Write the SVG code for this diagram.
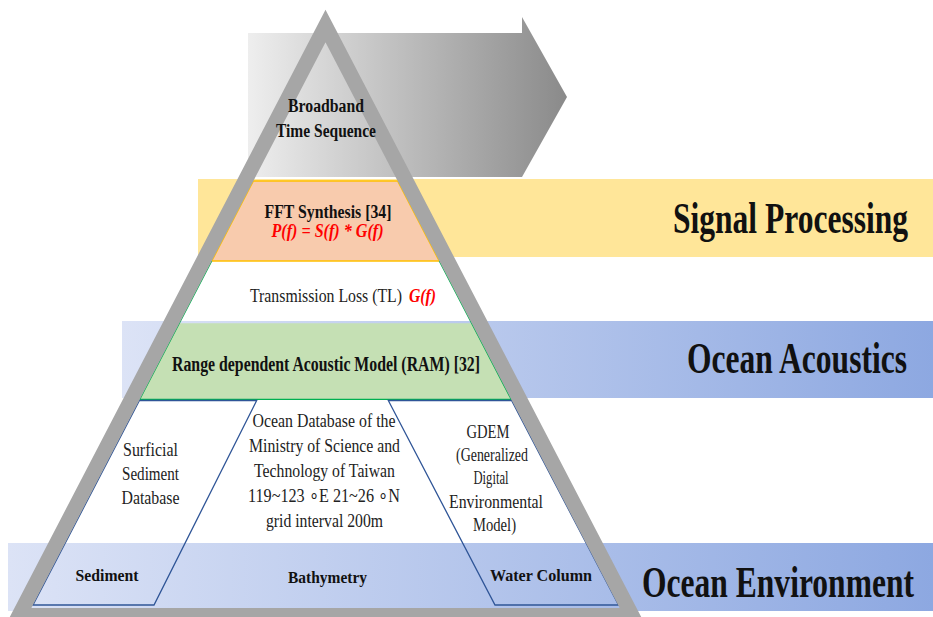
<svg xmlns="http://www.w3.org/2000/svg" width="933" height="617" viewBox="0 0 933 617">
  <defs>
    <linearGradient id="blueBand" x1="0" y1="0" x2="1" y2="0">
      <stop offset="0" stop-color="#DCE3F6"/>
      <stop offset="1" stop-color="#8DA8E1"/>
    </linearGradient>
    <linearGradient id="grayArrow" gradientUnits="userSpaceOnUse" x1="248" y1="0" x2="567" y2="0">
      <stop offset="0" stop-color="#EEEEEE"/>
      <stop offset="1" stop-color="#8A8A8A"/>
    </linearGradient>
    <style>
      text { font-family: "Liberation Serif", "Times New Roman", serif; fill: #111; }
      .b { font-weight: bold; }
      .lbl { font-weight: bold; font-size: 44px; text-anchor: start; }
      .red { fill: #FF0000; font-weight: bold; font-style: italic; }
      .mid { text-anchor: middle; }
      .reg { font-size: 19px; fill: #222; }
      .shape { fill: none; stroke: #2F5597; stroke-width: 1.3; }
    </style>
  </defs>

  <g id="band-signal">
    <rect x="198" y="179" width="735" height="78" fill="#FFE699"/>
    <text class="lbl" x="673" y="233" textLength="235" lengthAdjust="spacingAndGlyphs">Signal Processing</text>
  </g>
  <g id="band-acoustics">
    <rect x="122" y="321" width="811" height="77" fill="url(#blueBand)"/>
    <text class="lbl" x="687" y="373" textLength="220" lengthAdjust="spacingAndGlyphs">Ocean Acoustics</text>
  </g>
  <g id="band-environment">
    <rect x="8" y="543" width="925" height="68" fill="url(#blueBand)"/>
    <text class="lbl" x="642" y="597" textLength="272" lengthAdjust="spacingAndGlyphs">Ocean Environment</text>
  </g>

  <g id="arrow-broadband">
    <polygon points="248,33 522,33 522,17 567,97 522,177 248,177" fill="url(#grayArrow)"/>
  </g>

  <g id="fft">
    <polygon points="253.3,181 397.7,181 439.3,261 211.7,261" fill="#F8CBAD" stroke="#FFC000" stroke-width="1.5"/>
    <text class="b mid" x="328" y="218" font-size="19" textLength="127" lengthAdjust="spacingAndGlyphs">FFT Synthesis [34]</text>
    <text class="red mid" x="327.5" y="237" font-size="19" textLength="112" lengthAdjust="spacingAndGlyphs">P(f) = S(f) * G(f)</text>
  </g>

  <g id="transmission-loss">
    <text class="reg" x="250" y="302" textLength="152" lengthAdjust="spacingAndGlyphs">Transmission Loss (TL)</text>
    <text class="red" x="409" y="302" font-size="19" textLength="27" lengthAdjust="spacingAndGlyphs">G(f)</text>
  </g>

  <g id="ram">
    <polygon points="179.3,323.3 471.7,323.3 511.2,399.3 139.8,399.3" fill="#C5E0B4"/>
    <polyline points="211.7,261 139.8,399.3 511.2,399.3 439.3,261" fill="none" stroke="#00B050" stroke-width="1.3"/>
    <text class="b mid" x="326" y="371" font-size="20" textLength="308" lengthAdjust="spacingAndGlyphs">Range dependent Acoustic Model (RAM) [32]</text>
  </g>

  <g id="sediment">
    <polygon class="shape" points="139.4,400.5 256.7,400.5 154,605 33,605"/>
    <text class="reg mid" x="150.5" y="456" textLength="55" lengthAdjust="spacingAndGlyphs">Surficial</text>
    <text class="reg mid" x="150.5" y="480" textLength="57" lengthAdjust="spacingAndGlyphs">Sediment</text>
    <text class="reg mid" x="150.5" y="504" textLength="58" lengthAdjust="spacingAndGlyphs">Database</text>
    <text class="b mid" x="107" y="581" font-size="17" textLength="63" lengthAdjust="spacingAndGlyphs">Sediment</text>
  </g>

  <g id="bathymetry">
    <text class="reg mid" x="324" y="427" textLength="143" lengthAdjust="spacingAndGlyphs">Ocean Database of the</text>
    <text class="reg mid" x="324.5" y="452" textLength="151" lengthAdjust="spacingAndGlyphs">Ministry of Science and</text>
    <text class="reg mid" x="324.5" y="477" textLength="141" lengthAdjust="spacingAndGlyphs">Technology of Taiwan</text>
    <text class="reg mid" x="324" y="502" textLength="152" lengthAdjust="spacingAndGlyphs">119~123 ∘E  21~26 ∘N</text>
    <text class="reg mid" x="324.5" y="527" textLength="117" lengthAdjust="spacingAndGlyphs">grid interval 200m</text>
    <text class="b mid" x="327.5" y="583" font-size="17" textLength="79" lengthAdjust="spacingAndGlyphs">Bathymetry</text>
  </g>

  <g id="water-column">
    <polygon class="shape" points="388.3,400.5 511.6,400.5 618.5,605 495,605"/>
    <text class="reg mid" x="488" y="438" textLength="43" lengthAdjust="spacingAndGlyphs">GDEM</text>
    <text class="reg mid" x="492" y="461" textLength="72" lengthAdjust="spacingAndGlyphs">(Generalized</text>
    <text class="reg mid" x="491" y="484" textLength="35" lengthAdjust="spacingAndGlyphs">Digital</text>
    <text class="reg mid" x="496" y="508" textLength="94" lengthAdjust="spacingAndGlyphs">Environmental</text>
    <text class="reg mid" x="494.5" y="531" textLength="43" lengthAdjust="spacingAndGlyphs">Model)</text>
    <text class="b mid" x="541" y="581" font-size="17" textLength="102" lengthAdjust="spacingAndGlyphs">Water Column</text>
  </g>

  <g id="pyramid">
    <polygon points="325.5,26 632,615.5 19,615.5" fill="none" stroke="#A6A6A6" stroke-width="15" stroke-linejoin="miter" stroke-miterlimit="10"/>
  </g>

  <g id="broadband-label">
    <text class="b mid" x="326" y="112" font-size="18" textLength="76" lengthAdjust="spacingAndGlyphs">Broadband</text>
    <text class="b mid" x="326" y="137" font-size="18" textLength="100" lengthAdjust="spacingAndGlyphs">Time Sequence</text>
  </g>

  <g id="connectors"></g>
</svg>
